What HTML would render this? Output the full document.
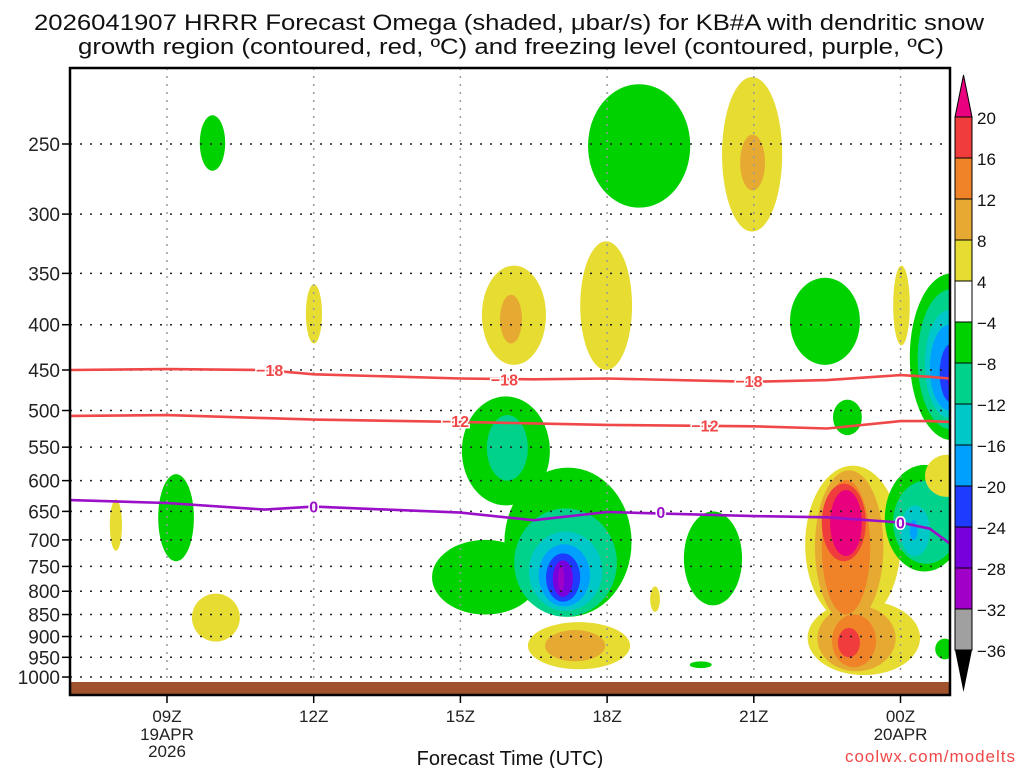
<!DOCTYPE html>
<html><head><meta charset="utf-8"><style>
html,body{margin:0;padding:0;background:#fff;}
svg{display:block;font-family:"Liberation Sans",sans-serif;}
</style></head><body>
<svg id="chart" width="1024" height="768" viewBox="0 0 1024 768" xmlns="http://www.w3.org/2000/svg">
<text x="509" y="30" font-size="22" text-anchor="middle" textLength="950" lengthAdjust="spacingAndGlyphs" fill="#111">2026041907 HRRR Forecast Omega (shaded, μbar/s) for KB#A with dendritic snow</text>
<text x="511" y="54" font-size="22" text-anchor="middle" textLength="866" lengthAdjust="spacingAndGlyphs" fill="#111">growth region (contoured, red, ºC) and freezing level (contoured, purple, ºC)</text>
<defs><clipPath id="plotclip"><rect x="70" y="68" width="880" height="627"/></clipPath></defs>
<g id="shading" clip-path="url(#plotclip)"></g>
<g id="grid"></g>
<g id="surface"></g>
<g id="contours" clip-path="url(#plotclip)"></g>
<rect x="70" y="68" width="880" height="627" fill="none" stroke="#000" stroke-width="2.5"/>
<g id="axes"></g>
<g id="colorbar"></g>
<text x="510" y="765" font-size="20" text-anchor="middle" fill="#111">Forecast Time (UTC)</text>
<text x="1016" y="762" font-size="17" text-anchor="end" fill="#f04848" letter-spacing="1">coolwx.com/modelts</text>
</svg>
<script>
// hours after 00Z 19 APR
const xTickHours=[9,12,15,18,21,24];
const xTickLabels=["09Z","12Z","15Z","18Z","21Z","00Z"];
const pLevels=[250,300,350,400,450,500,550,600,650,700,750,800,850,900,950,1000];
const cbLabels=["20","16","12","8","4","−4","−8","−12","−16","−20","−24","−28","−32","−36"];
const cbColors=["#f03c3c","#f08228","#e6aa32","#e6dc32","#ffffff","#00d200","#00d28c","#00c8c8","#00a0ff","#1e3cff","#7800dc","#a000c8","#a0a0a0"];
const levelColor={"-36":"#a0a0a0","-32":"#a000c8","-28":"#7800dc","-24":"#1e3cff","-20":"#00a0ff","-16":"#00c8c8","-12":"#00d28c","-8":"#00d200","4":"#e6dc32","8":"#e6aa32","12":"#f08228","16":"#f03c3c","20":"#e8007f"};
// omega blobs: [tStart, tEnd, pTop, pBottom, level]
const blobs=[
[9.67,10.19,232,268,-8],
[8.82,9.55,590,740,-8],
[7.83,8.08,630,720,4],
[9.51,10.49,805,912,4],
[11.84,12.17,360,420,4],
[15.44,16.75,343,444,4],
[15.81,16.26,370,420,8],
[17.45,18.51,322,450,4],
[17.61,19.7,214,295,-8],
[20.35,21.58,210,314,4],
[20.72,21.23,244,282,8],
[15.03,16.83,482,640,-8],
[15.54,16.38,506,600,-12],
[14.42,16.6,700,850,-8],
[15.9,18.5,580,855,-8],
[16.1,18.2,645,855,-12],
[16.4,17.9,685,842,-16],
[16.6,17.65,708,832,-20],
[16.75,17.45,725,822,-24],
[16.89,17.3,738,812,-28],
[17.0,17.12,750,800,-32],
[16.38,18.47,867,980,4],
[16.73,17.96,885,960,8],
[18.88,19.08,790,844,4],
[19.57,20.76,650,830,-8],
[19.69,20.14,960,977,-8],
[21.74,23.17,354,444,-8],
[22.62,23.21,486,533,-8],
[23.85,24.19,343,422,4],
[22.05,24.0,577,870,4],
[22.1,24.4,820,995,4],
[22.25,23.65,584,870,8],
[22.3,23.9,830,985,8],
[22.39,23.38,599,850,12],
[22.6,23.5,850,975,12],
[22.39,23.29,605,740,16],
[22.56,23.21,615,730,20],
[22.72,23.17,880,950,16],
[23.68,25.3,576,760,-8],
[23.85,25.2,600,745,-12],
[24.0,24.6,640,730,-16],
[24.19,24.35,665,700,-20],
[24.19,25.9,350,540,-8],
[24.35,25.7,365,525,-12],
[24.5,25.5,385,510,-16],
[24.6,25.4,400,500,-20],
[24.8,25.3,420,490,-24],
[24.97,25.3,440,485,-28],
[24.5,25.4,561,626,4],
[24.71,25.1,905,955,-8]
];
// contour lines: times and pressures
const lineTimes=[7,9,11,12,15,16.5,18,21,22.5,24,24.6,25];
const isoM18=[450,449,450,455,460,461,460,464,462,456,458,460];
const isoM12=[507,506,510,512,515,517,519,521,524,514,514,515];
const iso0=[631,636,647,642,652,665,651,658,660,669,680,706];
const labelsM18=[[11.1,450],[15.9,461],[20.9,463]];
const labelsM12=[[14.9,514],[20.0,520]];
const labels0=[[12.0,642],[19.1,651],[24.0,669]];

const X0=167, PXH=48.9, YT=144, PXL=384.5;
function xs(t){return X0+(t-9)*PXH;}
function ys(p){return YT+Math.log(p/250)*PXL;}
const NS="http://www.w3.org/2000/svg";
function mk(tag,attrs,parent){const e=document.createElementNS(NS,tag);for(const k in attrs)e.setAttribute(k,attrs[k]);parent.appendChild(e);return e;}

const shading=document.getElementById('shading');
blobs.forEach(b=>{
  const x1=xs(b[0]),x2=xs(b[1]),y1=ys(b[2]),y2=ys(b[3]);
  const e=mk('ellipse',{cx:(x1+x2)/2,cy:(y1+y2)/2,rx:(x2-x1)/2,ry:(y2-y1)/2,fill:levelColor[String(b[4])]},shading);
  
  
});

const grid=document.getElementById('grid');
pLevels.forEach(p=>{
  const l=mk('line',{x1:70,x2:950,y1:ys(p),y2:ys(p),stroke:'#222','stroke-width':1.5,'stroke-dasharray':'2 8'},grid);
  
  
});
xTickHours.forEach(t=>{
  const l=mk('line',{x1:xs(t),x2:xs(t),y1:68,y2:695,stroke:'#999','stroke-width':1.5,'stroke-dasharray':'2 6'},grid);
  
  
});

const surf=document.getElementById('surface');
const s=mk('rect',{x:71,y:682,width:878,height:13,fill:'#a0522d'},surf);



const cont=document.getElementById('contours');
function drawLine(vals,color,name,labs,text){
  let d='';
  lineTimes.forEach((t,i)=>{d+=(i?'L':'M')+xs(t).toFixed(1)+','+ys(vals[i]).toFixed(1);});
  const pth=mk('path',{d:d,fill:'none',stroke:color,'stroke-width':2.6,'stroke-linejoin':'round'},cont);
  
  
  labs.forEach(l=>{
    const tx=mk('text',{x:xs(l[0]),y:ys(l[1])+6,'font-size':16,'font-weight':'bold','text-anchor':'middle',fill:color,stroke:'#fff','stroke-width':3,'paint-order':'stroke'},cont);
    tx.textContent=text;
    
    
  });
}
drawLine(isoM18,'#f04848','isotherm-minus18',labelsM18,'−18');
drawLine(isoM12,'#f04848','isotherm-minus12',labelsM12,'−12');
drawLine(iso0,'#9a10c8','freezing-level',labels0,'0');

const axes=document.getElementById('axes');
pLevels.forEach(p=>{
  const tk=mk('line',{x1:62,x2:70,y1:ys(p),y2:ys(p),stroke:'#000','stroke-width':1.5},axes);
  
  
  const tx=mk('text',{x:60,y:ys(p)+7,'font-size':19,'text-anchor':'end',fill:'#222'},axes);
  tx.textContent=p;
  
  
});
xTickHours.forEach((t,i)=>{
  const tk=mk('line',{x1:xs(t),x2:xs(t),y1:695,y2:703,stroke:'#000','stroke-width':1.5},axes);
  
  
  const tx=mk('text',{x:xs(t),y:722,'font-size':17,'text-anchor':'middle',fill:'#222'},axes);
  tx.textContent=xTickLabels[i];
  
  
});
[["19APR",9,740],["2026",9,757],["20APR",24,740]].forEach(a=>{
  const tx=mk('text',{x:xs(a[1]),y:a[2],'font-size':17,'text-anchor':'middle',fill:'#222'},axes);
  tx.textContent=a[0];
  
  
});

const cb=document.getElementById('colorbar');
const CBX=955,CBW=17,CBT=117,BOX=41;
const up=mk('polygon',{points:`${CBX},${CBT} ${CBX+CBW/2},75 ${CBX+CBW},${CBT}`,fill:'#e8007f',stroke:'#000','stroke-width':1},cb);


cbColors.forEach((c,i)=>{
  const r=mk('rect',{x:CBX,y:CBT+i*BOX,width:CBW,height:BOX,fill:c,stroke:'#000','stroke-width':1},cb);
  
  
});
const yb=CBT+cbColors.length*BOX;
const dn=mk('polygon',{points:`${CBX},${yb} ${CBX+CBW/2},692 ${CBX+CBW},${yb}`,fill:'#000'},cb);


cbLabels.forEach((l,i)=>{
  const tx=mk('text',{x:977,y:CBT+i*BOX+7,'font-size':17,fill:'#111'},cb);
  tx.textContent=l;
  
  
});
</script>
</body></html>
